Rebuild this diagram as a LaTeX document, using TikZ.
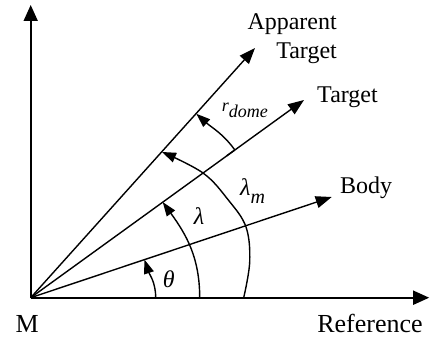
\documentclass[tikz,border=0pt]{standalone}
\usepackage{fontspec}
\setmainfont{Liberation Serif}
\usetikzlibrary{arrows.meta}
\begin{document}
\begin{tikzpicture}[x=1pt,y=1pt]
    \tikzstyle{axis}=[line width=1.7pt, -{Triangle[length=16pt,width=14pt]}]
    \tikzstyle{ray}=[line width=1.4pt, -{Triangle[length=16pt,width=12pt]}]
    \tikzstyle{ang}=[line width=1.4pt, -{Triangle[length=14pt,width=10pt]}]
    \tikzstyle{lbl}=[inner sep=0pt, font=\fontsize{24}{28.3}\selectfont]
    \tikzstyle{sym}=[inner sep=0pt, font=\fontsize{24}{24}\selectfont\itshape]
    \useasboundingbox (-30.7,-39.3) rectangle (399.3,297.7);
    \coordinate (M) at (0,0);
    \coordinate (up) at (0,292.7);
    \coordinate (ref) at (398.5,0);
    \coordinate (body) at (301,100.7);
    \coordinate (tgt) at (273.3,197.7);
    \coordinate (app) at (224.3,249.7);
    \draw[axis] (M) -- (up);
    \draw[axis] (M) -- (ref);
    \draw[ray] (M) -- (body);
    \draw[ray] (M) -- (tgt);
    \draw[ray] (M) -- (app);
    \draw[ang] (125,0) to[out=90,in=-71.5] (18.5:120);
    \draw[ang] (169,0) to[out=90,in=-54] (35.9:163);
    \draw[ang] plot[smooth, tension=0.6] coordinates {(213,0) (219,36) (215.3,70.7) (197.6,97.7) (172.3,124.7) (131.3,145.7)};
    \draw[line width=1.4pt] (35.9:252) -- (35.9:242);
    \draw[ang] (35.9:252) to[out=126,in=-42] (48:247.5);
    \node[lbl, font=\fontsize{26}{26}\selectfont, anchor=base] (mlbl) at (-3.4,-34.8) {M};
    \node[lbl, font=\fontsize{26}{26}\selectfont, anchor=base] (reflbl) at (339.3,-34.3) {Reference};
    \node[lbl, anchor=base] (bodylbl) at (335.3,104.4) {Body};
    \node[lbl, anchor=base] (tgtlbl) at (316.8,195) {Target};
    \node[lbl, anchor=base east, align=right] (applbl) at (306.3,239.4) {Apparent\\Target};
    \node[sym] (thlbl) at (138.1,18.7) {θ};
    \node[sym] (lamlbl) at (168.3,81.7) {λ};
    \node[sym, anchor=base west] (lammlbl) at (209.3,101.7) {λ\raisebox{-7pt}{\fontsize{20}{20}\selectfont m}};
    \node[sym, font=\fontsize{18}{18}\selectfont\itshape, anchor=base west] (rdlbl) at (191,186) {r\raisebox{-6pt}{dome}};
\end{tikzpicture}
\end{document}
